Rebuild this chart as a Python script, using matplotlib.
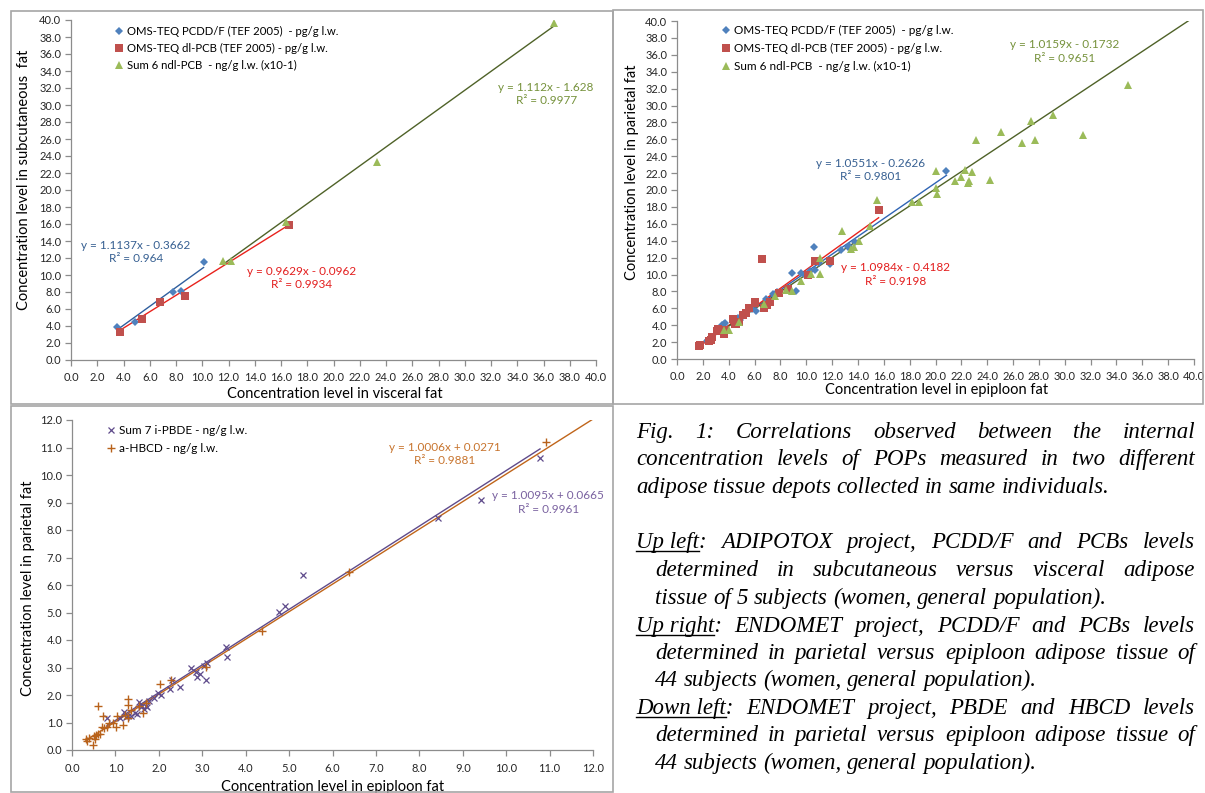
import matplotlib
matplotlib.use('Agg')
import matplotlib.pyplot as plt
from matplotlib.lines import Line2D
from matplotlib.patches import Rectangle
from matplotlib.ticker import FormatStrFormatter
import numpy as np

W, H = 1205, 793

# --- Up left: ADIPOTOX, subcutaneous vs visceral fat ---
ul_pcdd_x = [3.5, 4.9, 7.8, 8.4, 10.1]
ul_pcdd_y = [3.85, 4.5, 8.0, 8.15, 11.5]
ul_dlpcb_x = [3.7, 5.4, 6.8, 8.7, 16.6]
ul_dlpcb_y = [3.3, 4.8, 6.8, 7.5, 15.9]
ul_ndl_x = [11.6, 12.2, 16.4, 23.3, 36.8]
ul_ndl_y = [11.6, 11.7, 16.2, 23.3, 39.6]

# --- Up right: ENDOMET, parietal vs epiploon fat (PCDD/F, PCBs) ---
ur_pcdd_x = [2.3, 2.4, 3.5, 3.6, 3.7, 4.7, 4.9, 5.3, 5.8, 6.1, 6.9, 7.4, 7.7, 8.9, 9.2,
             9.6, 9.9, 10.3, 10.6, 10.7, 11.0, 11.8, 12.7, 13.2, 13.3, 13.8, 20.85]
ur_pcdd_y = [2.1, 2.25, 4.0, 4.2, 4.3, 4.8, 4.6, 5.5, 5.9, 5.7, 7.1, 7.7, 7.9, 10.2, 8.0,
             10.2, 10.0, 10.4, 13.2, 10.5, 11.4, 11.3, 12.9, 13.2, 13.4, 13.8, 22.25]
ur_dlpcb_x = [1.7, 1.8, 2.5, 2.6, 2.7, 3.1, 3.2, 3.6, 3.75, 4.3, 4.5, 4.6, 4.8, 5.1, 5.3,
              5.6, 6.0, 6.0, 6.6, 6.7, 7.0, 7.2, 7.9, 8.6, 10.1, 10.7, 11.8, 15.6]
ur_dlpcb_y = [1.5, 1.6, 2.1, 2.3, 2.6, 3.3, 3.5, 3.0, 3.4, 4.7, 4.2, 4.15, 4.4, 5.2, 5.5,
              6.05, 6.6, 6.8, 11.8, 6.05, 6.4, 6.8, 7.8, 8.3, 10.0, 11.6, 11.65, 17.6]
ur_ndl_x = [3.6, 4.0, 4.8, 6.7, 7.6, 8.4, 8.9, 9.6, 10.4, 11.1, 11.1, 12.8, 13.5, 13.7, 14.1,
            14.9, 15.5, 18.2, 18.7, 20.0, 20.0, 20.1, 21.5, 22.0, 22.3, 22.5, 22.6, 22.8,
            23.1, 24.2, 25.1, 26.7, 27.4, 27.7, 29.1, 31.4, 34.9]
ur_ndl_y = [3.4, 3.4, 4.4, 6.5, 7.4, 8.2, 8.1, 9.2, 10.1, 10.1, 12.0, 15.1, 13.0, 13.3, 14.0,
            15.7, 18.8, 18.6, 18.6, 22.2, 20.2, 19.5, 21.1, 21.5, 22.4, 20.8, 21.1, 22.1,
            25.9, 21.2, 26.9, 25.6, 28.2, 25.9, 28.9, 26.5, 32.4]

# --- Down left: ENDOMET, parietal vs epiploon fat (PBDE, HBCD) ---
dl_pbde_x = [0.8, 1.1, 1.2, 1.25, 1.3, 1.35, 1.45, 1.5, 1.55, 1.58, 1.6, 1.65, 1.7, 1.72,
             1.78, 1.9, 1.98, 2.05, 2.25, 2.3, 2.49, 2.75, 2.85, 2.88, 2.95, 3.05, 3.08,
             3.12, 3.55, 3.56, 4.77, 4.9, 5.32, 8.43, 9.42, 10.78]
dl_pbde_y = [1.15, 1.15, 1.38, 1.2, 1.25, 1.22, 1.35, 1.3, 1.74, 1.56, 1.65, 1.5, 1.6, 1.55,
             1.8, 1.9, 2.09, 2.0, 2.21, 2.56, 2.29, 3.0, 2.82, 2.66, 2.75, 3.05, 2.56,
             3.15, 3.76, 3.39, 5.01, 5.24, 6.37, 8.43, 9.09, 10.63]
dl_hbcd_x = [0.32, 0.34, 0.4, 0.48, 0.5, 0.52, 0.55, 0.59, 0.61, 0.65, 0.69, 0.71, 0.73,
             0.8, 0.86, 0.95, 1.02, 1.03, 1.17, 1.23, 1.28, 1.29, 1.29, 1.35, 1.55, 1.63,
             1.7, 2.02, 2.28, 3.09, 4.38, 6.38, 10.91]
dl_hbcd_y = [0.4, 0.32, 0.45, 0.18, 0.52, 0.4, 0.55, 0.59, 1.59, 0.6, 0.83, 1.22, 0.8,
             0.82, 0.98, 1.0, 0.85, 1.22, 0.91, 1.29, 1.15, 1.84, 1.65, 1.45, 1.6, 1.34,
             1.7, 2.39, 2.56, 3.02, 4.32, 6.46, 11.21]

# trendlines: slope, intercept, x range, label
ul_trend_slope = [1.1137, 0.9629, 1.112]
ul_trend_icpt = [-0.3662, -0.0962, -1.628]
ul_trend_xr = [(3.5, 10.1), (3.7, 16.6), (11.6, 36.8)]
ul_trend_txt = ['y = 1.1137x - 0.3662\nR² = 0.964', 'y = 0.9629x - 0.0962\nR² = 0.9934',
                'y = 1.112x - 1.628\nR² = 0.9977']
ur_trend_slope = [1.0551, 1.0984, 1.0159]
ur_trend_icpt = [-0.2626, -0.4182, -0.1732]
ur_trend_xr = [(2.3, 20.85), (1.7, 15.6), (3.6, 40.0)]
ur_trend_txt = ['y = 1.0551x - 0.2626\nR² = 0.9801', 'y = 1.0984x - 0.4182\nR² = 0.9198',
                'y = 1.0159x - 0.1732\nR² = 0.9651']
dl_trend_slope = [1.0095, 1.0006]
dl_trend_icpt = [0.0665, 0.0271]
dl_trend_xr = [(0.8, 10.78), (0.32, 12.0)]
dl_trend_txt = ['y = 1.0095x + 0.0665\nR² = 0.9961', 'y = 1.0006x + 0.0271\nR² = 0.9881']

pop_labels = ['OMS-TEQ PCDD/F (TEF 2005)  - pg/g l.w.',
              'OMS-TEQ dl-PCB (TEF 2005) - pg/g l.w.',
              'Sum 6 ndl-PCB  - ng/g l.w. (x10-1)']
bfr_labels = ['Sum 7 i-PBDE - ng/g l.w.', 'a-HBCD - ng/g l.w.']

caption = [
    ('Fig. 1: Correlations observed between the internal', 636, True, None),
    ('concentration levels of POPs measured in two different', 636, True, None),
    ('adipose tissue depots collected in same individuals.', 636, False, None),
    ('Up left: ADIPOTOX project, PCDD/F and PCBs levels', 636, True, 'Up left'),
    ('determined in subcutaneous versus visceral adipose', 655, True, None),
    ('tissue of 5 subjects (women, general population).', 655, False, None),
    ('Up right: ENDOMET project, PCDD/F and PCBs levels', 636, True, 'Up right'),
    ('determined in parietal versus epiploon adipose tissue of', 655, True, None),
    ('44 subjects (women, general population).', 655, False, None),
    ('Down left:  ENDOMET project, PBDE and HBCD levels', 636, True, 'Down left'),
    ('determined in parietal versus epiploon adipose tissue of', 655, True, None),
    ('44 subjects (women, general population).', 655, False, None),
]
caption_y = [432, 459, 487, 542, 570, 598, 626, 653, 680, 708, 735, 763]


def px_box(x0, y0, x1, y1):
    # pixel box (origin top left) -> figure fraction [left, bottom, width, height]
    return [x0 / W, 1 - y1 / H, (x1 - x0) / W, (y1 - y0) / H]


def style_axes(ax, lim, step):
    ticks = np.arange(0, lim + step / 2, step)
    ax.set_xlim(0, lim)
    ax.set_ylim(0, lim)
    ax.set_xticks(ticks)
    ax.set_yticks(ticks)
    ax.xaxis.set_major_formatter(FormatStrFormatter('%.1f'))
    ax.yaxis.set_major_formatter(FormatStrFormatter('%.1f'))
    for side in ['top', 'right']:
        ax.spines[side].set_visible(False)
    for side in ['left', 'bottom']:
        ax.spines[side].set_color('#8c8c8c')
        ax.spines[side].set_linewidth(0.9)
    ax.tick_params(direction='out', length=4, width=0.9, color='#8c8c8c',
                   labelsize=8, labelcolor='#262626')
    ax.tick_params(axis='x', pad=5)
    ax.tick_params(axis='y', pad=3)
    ax.patch.set_alpha(0)


def trend_lines(ax, slopes, icpts, xranges, texts, line_colors, text_colors, text_pos):
    for a, b, (x0, x1), s, lc, tc, (tx, ty) in zip(slopes, icpts, xranges, texts,
                                                    line_colors, text_colors, text_pos):
        ax.plot([x0, x1], [a * x0 + b, a * x1 + b], color=lc, lw=1.0, zorder=2)
        ax.text(tx, ty, s, ha='center', va='center', color=tc, fontsize=8.5,
                linespacing=1.25)


def main():
    plt.rcParams['font.family'] = ['Lato', 'DejaVu Sans']
    fig = plt.figure(figsize=(W / 100, H / 100), dpi=100)

    # panel frames
    for box in [(11, 11, 613, 404), (613, 10, 1203, 404), (11, 406, 613, 792)]:
        fig.add_artist(Rectangle((box[0] / W, 1 - box[3] / H), (box[2] - box[0]) / W,
                                 (box[3] - box[1]) / H, transform=fig.transFigure,
                                 fill=False, edgecolor='#a6a6a6', lw=1.2))

    pop_colors = ['#4f81bd', '#c0504d', '#9bbb59']
    pop_markers = ['D', 's', '^']
    pop_msize = [4.5, 5.5, 6]

    # up left
    ax1 = fig.add_axes(px_box(71, 20, 596, 360))
    style_axes(ax1, 40, 2)
    for xs, ys, c, m, ms, lab in zip([ul_pcdd_x, ul_dlpcb_x, ul_ndl_x],
                                     [ul_pcdd_y, ul_dlpcb_y, ul_ndl_y],
                                     pop_colors, pop_markers, pop_msize, pop_labels):
        ax1.plot(xs, ys, ls='none', marker=m, ms=ms, color=c, mew=0, label=lab, zorder=3)
    trend_lines(ax1, ul_trend_slope, ul_trend_icpt, ul_trend_xr, ul_trend_txt,
                ['#2f5e9e', '#e8221c', '#4f6228'], ['#376092', '#e31e1e', '#76923c'],
                [(4.95, 12.7), (17.6, 9.65), (36.2, 31.3)])
    ax1.legend(loc='upper left', bbox_to_anchor=(0.085, 0.982), frameon=False, fontsize=8.2,
               handlelength=0.6, handletextpad=0.4, labelspacing=0.5, borderpad=0,
               borderaxespad=0, numpoints=1)
    ax1.set_xlabel('Concentration level in visceral fat', fontsize=10.5)
    ax1.set_ylabel('Concentration level in subcutaneous  fat', fontsize=10.5)
    ax1.xaxis.set_label_coords(0.502, -0.078)
    ax1.yaxis.set_label_coords(-0.077, 0.53)

    # up right
    ax2 = fig.add_axes(px_box(677, 21, 1194, 359))
    style_axes(ax2, 40, 2)
    for xs, ys, c, m, ms, lab in zip([ur_pcdd_x, ur_dlpcb_x, ur_ndl_x],
                                     [ur_pcdd_y, ur_dlpcb_y, ur_ndl_y],
                                     pop_colors, pop_markers, pop_msize, pop_labels):
        ax2.plot(xs, ys, ls='none', marker=m, ms=ms, color=c, mew=0, label=lab, zorder=3)
    trend_lines(ax2, ur_trend_slope, ur_trend_icpt, ur_trend_xr, ur_trend_txt,
                ['#2f64b4', '#e8221c', '#4f6228'], ['#376092', '#e31e1e', '#76923c'],
                [(15.0, 22.4), (16.9, 10.0), (30.0, 36.4)])
    ax2.legend(loc='upper left', bbox_to_anchor=(0.088, 0.988), frameon=False, fontsize=8.5,
               handlelength=0.6, handletextpad=0.4, labelspacing=0.6, borderpad=0,
               borderaxespad=0, numpoints=1)
    ax2.set_xlabel('Concentration level in epiploon fat', fontsize=10.5)
    ax2.set_ylabel('Concentration level in parietal fat', fontsize=10.5)
    ax2.xaxis.set_label_coords(0.503, -0.072)
    ax2.yaxis.set_label_coords(-0.074, 0.553)

    # down left
    ax3 = fig.add_axes(px_box(72, 420, 593, 750))
    style_axes(ax3, 12, 1)
    ax3.plot(dl_pbde_x, dl_pbde_y, ls='none', marker='x', ms=4.5, mew=0.9,
             color='#5f4b8b', label=bfr_labels[0], zorder=3)
    ax3.plot(dl_hbcd_x, dl_hbcd_y, ls='none', marker='+', ms=5.5, mew=1.0,
             color='#b8621b', label=bfr_labels[1], zorder=3)
    trend_lines(ax3, dl_trend_slope, dl_trend_icpt, dl_trend_xr, dl_trend_txt,
                ['#5f4b8b', '#c0651a'], ['#7a62a0', '#c8752f'],
                [(10.97, 9.0), (8.59, 10.75)])
    ax3.legend(loc='upper left', bbox_to_anchor=(0.068, 0.985), frameon=False, fontsize=8.5,
               handlelength=0.6, handletextpad=0.4, labelspacing=0.6, borderpad=0,
               borderaxespad=0, numpoints=1)
    ax3.set_xlabel('Concentration level in epiploon fat', fontsize=10.5)
    ax3.set_ylabel('Concentration level in parietal fat', fontsize=10.5)
    ax3.xaxis.set_label_coords(0.5, -0.09)
    ax3.yaxis.set_label_coords(-0.071, 0.49)

    # caption, justified by spreading the words over the line
    renderer = fig.canvas.get_renderer()
    cap_kw = dict(family=['Liberation Serif', 'DejaVu Serif'], style='italic',
                  fontsize=16.5, va='baseline', ha='left', color='black')
    x_right = 1195
    for (text, x_left, justify, ul), yc in zip(caption, caption_y):
        y = yc + 6
        if ul:
            tokens = [ul + ':'] + text[len(ul) + 1:].split()
        else:
            tokens = text.split()
        arts = [fig.text(0, 0, t, **cap_kw) for t in tokens]
        widths = [a.get_window_extent(renderer).width for a in arts]
        if justify and len(arts) > 1:
            gap = (x_right - x_left - sum(widths)) / (len(arts) - 1)
        else:
            gap = 16.5 * 100 / 72 * 0.25
        x = x_left
        for a, w in zip(arts, widths):
            a.set_position((x / W, 1 - y / H))
            x += w + gap
        if ul:
            probe = fig.text(0, 0, ul, **cap_kw)
            w_ul = probe.get_window_extent(renderer).width
            probe.remove()
            fig.add_artist(Line2D([x_left / W, (x_left + w_ul) / W],
                                  [1 - (y + 3) / H, 1 - (y + 3) / H],
                                  transform=fig.transFigure, color='black', lw=1.0))

    fig.savefig('out.png', dpi=100)


if __name__ == '__main__':
    main()
